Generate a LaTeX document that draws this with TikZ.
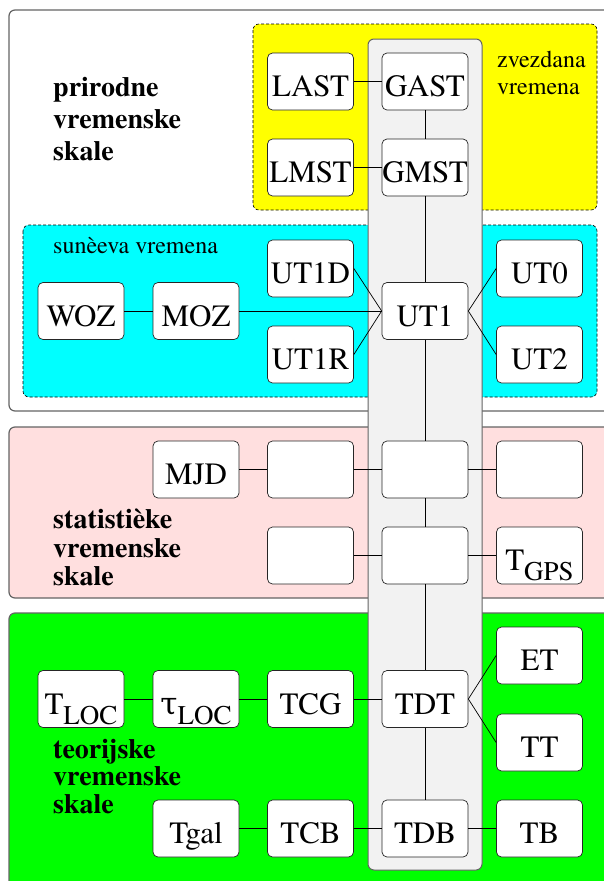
\documentclass[tikz,border=0pt]{standalone}
\usepackage{fontspec}
\IfFontExistsTF{texgyretermes-regular.otf}
  {\setmainfont{texgyretermes-regular.otf}[BoldFont=texgyretermes-bold.otf]}
  {\IfFontExistsTF{TeX Gyre Termes}{\setmainfont{TeX Gyre Termes}}{}}
\newfontfamily\greekfont{DejaVu Serif}
\definecolor{pinkbg}{RGB}{255,223,223}
\definecolor{colbg}{RGB}{242,242,242}
\definecolor{regline}{RGB}{100,100,100}
\definecolor{ybg}{RGB}{255,255,0}
\definecolor{cbg}{RGB}{0,255,255}
\definecolor{gbg}{RGB}{0,255,0}
\newcommand{\lsub}[2]{#1\raisebox{-10pt}{\fontsize{27}{27}\selectfont #2}}
\begin{document}
\begin{tikzpicture}[x=1pt,y=-1pt,
  box/.style={draw=black!85, fill=white, rounded corners=5pt, minimum width=86pt,
    minimum height=57pt, inner sep=0pt, text height=31pt, text depth=1pt,
    font=\fontsize{31}{36}\selectfont, line width=0.7pt},
  conn/.style={draw=black, line width=0.7pt},
  region/.style={draw=regline, line width=1.2pt, rounded corners=6pt},
  subregion/.style={draw=black, line width=0.6pt, rounded corners=6pt, dash pattern=on 3pt off 2pt},
  biglbl/.style={align=left, anchor=north west, inner sep=0pt},
  smalllbl/.style={font=\fontsize{24}{27}\selectfont, align=left, anchor=north west, inner sep=0pt}]
\useasboundingbox (0,0) rectangle (604,881);
\clip (0,0) rectangle (604,881);
\fill[white] (0,0) rectangle (604,881);

% regions
\draw[region, fill=white] (9,10) rectangle (640,411);
\draw[subregion, fill=ybg] (253,24) rectangle (597,210);
\draw[subregion, fill=cbg] (23,225) rectangle (597,397);
\draw[region, fill=pinkbg] (9,427) rectangle (640,598);
\draw[region, fill=gbg] (9,613) rectangle (640,920);

% central column
\draw[draw=regline, fill=colbg, line width=1pt, rounded corners=6pt] (368,39) rectangle (482,870);

% labels
\node[biglbl, font=\fontsize{28}{32}\selectfont\bfseries] (lprir) at (53,77) {prirodne\\vremenske\\skale};
\node[biglbl, font=\fontsize{28}{28.5}\selectfont\bfseries] (lstat) at (53,509) {statistièke\\vremenske\\skale};
\node[biglbl, font=\fontsize{28}{27.5}\selectfont\bfseries] (lteor) at (53,739) {teorijske\\vremenske\\skale};
\node[smalllbl] (lzvez) at (497,51) {zvezdana\\vremena};
\node[smalllbl, anchor=base west] (lsun) at (53,253) {sunèeva vremena};

% nodes
\node[box] (LAST) at (310.5,81.5) {LAST};
\node[box] (GAST) at (425,81.5) {GAST};
\node[box] (LMST) at (310.5,167.5) {LMST};
\node[box] (GMST) at (425,167.5) {GMST};

\node[box] (UT1D) at (310.5,268.5) {UT1D};
\node[box] (UT1R) at (310.5,354.5) {UT1R};
\node[box] (UT1) at (425,311) {UT1};
\node[box] (UT0) at (539.5,268.5) {UT0};
\node[box] (UT2) at (539.5,354.5) {UT2};
\node[box] (WOZ) at (81,311) {WOZ};
\node[box] (MOZ) at (196,311) {MOZ};

\node[box] (MJD) at (196,469.5) {MJD};
\node[box] (E31) at (310.5,469.5) {};
\node[box] (E41) at (425,469.5) {};
\node[box] (E51) at (539.5,469.5) {};
\node[box] (E32) at (310.5,555.5) {};
\node[box] (E42) at (425,555.5) {};
\node[box] (TGPS) at (539.5,555.5) {\lsub{T}{GPS}};

\node[box] (TLOC) at (81,699) {\lsub{T}{LOC}};
\node[box] (tauLOC) at (196,699) {\lsub{{\greekfont τ}}{LOC}};
\node[box] (TCG) at (310.5,699) {TCG};
\node[box] (TDT) at (425,699) {TDT};
\node[box] (ET) at (539.5,655.5) {ET};
\node[box] (TT) at (539.5,742.5) {TT};
\node[box] (Tgal) at (196,828.5) {Tgal};
\node[box] (TCB) at (310.5,828.5) {TCB};
\node[box] (TDB) at (425,828.5) {TDB};
\node[box] (TB) at (539.5,828.5) {TB};

% connectors
\draw[conn] (LAST) -- (GAST);
\draw[conn] (LMST) -- (GMST);
\draw[conn] (GAST) -- (GMST);
\draw[conn] (GMST) -- (UT1);
\draw[conn] (WOZ) -- (MOZ);
\draw[conn] (MOZ) -- (UT1);
\draw[conn] (UT1D.east) -- (UT1.west);
\draw[conn] (UT1R.east) -- (UT1.west);
\draw[conn] (UT0.west) -- (UT1.east);
\draw[conn] (UT2.west) -- (UT1.east);
\draw[conn] (UT1) -- (E41);
\draw[conn] (MJD) -- (E31);
\draw[conn] (E31) -- (E41);
\draw[conn] (E41) -- (E51);
\draw[conn] (E41) -- (E42);
\draw[conn] (E32) -- (E42);
\draw[conn] (E42) -- (TGPS);
\draw[conn] (E42) -- (TDT);
\draw[conn] (TLOC) -- (tauLOC);
\draw[conn] (tauLOC) -- (TCG);
\draw[conn] (TCG) -- (TDT);
\draw[conn] (TDT.east) -- (ET.west);
\draw[conn] (TDT.east) -- (TT.west);
\draw[conn] (TDT) -- (TDB);
\draw[conn] (Tgal) -- (TCB);
\draw[conn] (TCB) -- (TDB);
\draw[conn] (TDB) -- (TB);
\end{tikzpicture}
\end{document}
